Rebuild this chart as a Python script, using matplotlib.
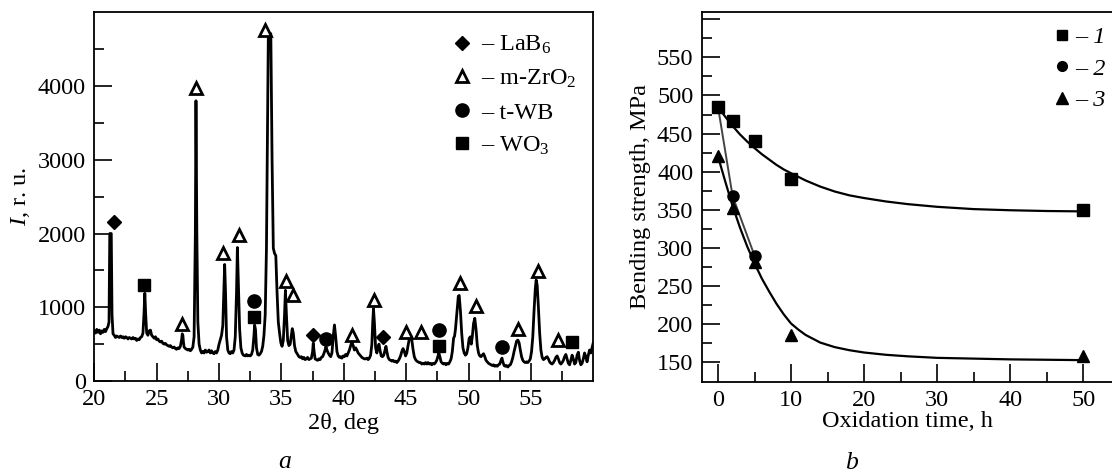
import matplotlib
matplotlib.use("Agg")
import matplotlib.pyplot as plt
from matplotlib.ticker import MultipleLocator, FixedLocator
from matplotlib.lines import Line2D

plt.rcParams['font.family'] = ['Liberation Serif', 'DejaVu Serif']
plt.rcParams['mathtext.fontset'] = 'custom'
plt.rcParams['mathtext.rm'] = 'Liberation Serif'
plt.rcParams['mathtext.it'] = 'Liberation Serif:italic'

# ---------------- Panel a: XRD pattern ----------------
two_theta = [
    20.0, 20.1, 20.2, 20.3, 20.4, 20.5, 20.6, 20.7, 20.8, 20.9, 21.0, 21.1,
    21.18, 21.24, 21.36, 21.42, 21.5,
    21.6, 21.7, 21.8, 21.9, 22.0, 22.1, 22.2, 22.3, 22.4, 22.5, 22.6, 22.7, 22.8, 22.9,
    23.0, 23.1, 23.2, 23.3, 23.4, 23.5, 23.6, 23.7, 23.8, 23.9,
    23.98, 24.05, 24.12, 24.2, 24.3, 24.4, 24.5, 24.6, 24.7, 24.8, 24.9,
    25.0, 25.1, 25.2, 25.3, 25.4, 25.5, 25.6, 25.7, 25.8, 25.9, 26.0, 26.1, 26.2, 26.3,
    26.4, 26.5, 26.6, 26.7, 26.8, 26.9, 27.0, 27.05, 27.1, 27.15, 27.2, 27.3, 27.4, 27.5,
    27.6, 27.7, 27.8, 27.9, 28.0, 28.1, 28.15, 28.22, 28.3, 28.4, 28.5, 28.6, 28.7, 28.8,
    28.9, 29.0, 29.1, 29.2, 29.3, 29.4, 29.5, 29.6, 29.7, 29.8, 29.9, 30.0, 30.1, 30.2,
    30.3, 30.38, 30.45, 30.52, 30.6, 30.7, 30.8, 30.9, 31.0, 31.1, 31.2, 31.3, 31.4, 31.47,
    31.55, 31.65, 31.75, 31.85, 31.95, 32.1, 32.2, 32.3, 32.4, 32.5, 32.6, 32.7, 32.8, 32.85,
    32.92, 33.0, 33.1, 33.2, 33.3, 33.4, 33.5, 33.6, 33.7, 33.8, 33.9, 33.95, 34.15, 34.25,
    34.35, 34.45, 34.55, 34.65, 34.75, 34.85, 34.95, 35.05, 35.15, 35.25, 35.32, 35.4, 35.5,
    35.6, 35.7, 35.8, 35.87, 35.95, 36.05, 36.15, 36.3, 36.4, 36.5, 36.6, 36.7, 36.8, 36.9,
    37.0, 37.1, 37.2, 37.3, 37.4, 37.5, 37.55, 37.62, 37.7, 37.8, 37.9, 38.0, 38.1, 38.2,
    38.3, 38.4, 38.5, 38.57, 38.65, 38.75, 38.85, 38.95, 39.05, 39.15, 39.25, 39.35, 39.45,
    39.55, 39.65, 39.75, 39.85, 39.95, 40.05, 40.15, 40.25, 40.35, 40.45, 40.55, 40.65,
    40.75, 40.85, 40.95, 41.05, 41.15, 41.25, 41.35, 41.45, 41.55, 41.65, 41.75, 41.85,
    41.95, 42.05, 42.15, 42.25, 42.32, 42.38, 42.45, 42.55, 42.65, 42.75, 42.82, 42.9, 43.0,
    43.1, 43.2, 43.3, 43.38, 43.45, 43.55, 43.65, 43.75, 43.85, 43.95, 44.05, 44.15, 44.25,
    44.35, 44.45, 44.55, 44.65, 44.75, 44.85, 44.95, 45.05, 45.15, 45.25, 45.35, 45.45,
    45.55, 45.65, 45.75, 45.85, 45.95, 46.05, 46.15, 46.25, 46.35, 46.45, 46.55, 46.65,
    46.75, 46.85, 46.95, 47.05, 47.15, 47.25, 47.35, 47.45, 47.55, 47.62, 47.7, 47.8, 47.9,
    48.0, 48.1, 48.2, 48.3, 48.4, 48.5, 48.6, 48.7, 48.8, 48.88, 48.95, 49.05, 49.18, 49.25,
    49.35, 49.45, 49.55, 49.65, 49.75, 49.85, 49.95, 50.05, 50.15, 50.22, 50.3, 50.4, 50.5,
    50.6, 50.7, 50.8, 50.9, 51.0, 51.1, 51.2, 51.3, 51.4, 51.5, 51.6, 51.7, 51.8, 51.9,
    52.0, 52.1, 52.2, 52.3, 52.4, 52.5, 52.6, 52.68, 52.75, 52.85, 52.95, 53.05, 53.15,
    53.25, 53.35, 53.45, 53.55, 53.65, 53.75, 53.85, 53.95, 54.05, 54.15, 54.25, 54.35,
    54.45, 54.55, 54.65, 54.75, 54.85, 54.95, 55.05, 55.15, 55.25, 55.35, 55.42, 55.5,
    55.6, 55.7, 55.8, 55.9, 56.0, 56.1, 56.2, 56.3, 56.4, 56.5, 56.6, 56.7, 56.8, 56.9,
    57.0, 57.1, 57.2, 57.3, 57.4, 57.5, 57.6, 57.7, 57.8, 57.9, 58.0, 58.1, 58.2, 58.3,
    58.4, 58.5, 58.6, 58.7, 58.8, 58.9, 59.0, 59.1, 59.2, 59.3, 59.4, 59.5, 59.6, 59.7,
    59.8, 59.9, 60.0,
]
intensity = [
    680, 650, 700, 660, 690, 640, 680, 660, 700, 670, 710, 740,
    800, 2000, 2000, 900, 640,
    620, 590, 610, 600, 590, 610, 590, 600, 580, 600, 590, 570, 590, 580,
    570, 590, 570, 580, 550, 570, 560, 590, 600, 650,
    900, 1190, 900, 650, 620, 680, 690, 620, 600, 580, 600,
    560, 570, 540, 530, 540, 510, 500, 510, 490, 480, 470, 480, 460, 450,
    460, 440, 430, 450, 440, 470, 560, 640, 620, 520, 460, 440, 430, 420,
    430, 410, 430, 460, 600, 2000, 3800, 2000, 800, 500, 420, 380, 400, 380,
    420, 390, 400, 420, 380, 410, 380, 370, 400, 380, 420, 500, 560, 620,
    750, 1200, 1580, 1200, 600, 420, 380, 370, 400, 380, 420, 600, 1200, 1810,
    1300, 700, 450, 380, 350, 340, 360, 340, 350, 340, 360, 420, 620, 760,
    700, 450, 360, 350, 370, 400, 470, 620, 900, 1800, 3800, 4710, 4710, 3000,
    1800, 1730, 1700, 1200, 800, 650, 520, 470, 550, 900, 1230, 900, 550,
    480, 500, 620, 710, 650, 480, 400, 360, 330, 320, 330, 300, 320, 290,
    300, 320, 290, 300, 310, 400, 510, 400, 300, 290, 280, 300, 290, 320,
    330, 370, 420, 465, 420, 380, 350, 330, 380, 600, 760, 600, 400,
    340, 320, 330, 310, 340, 330, 360, 340, 380, 420, 480, 530,
    480, 420, 450, 420, 380, 360, 340, 320, 310, 300, 300, 310,
    290, 310, 350, 500, 800, 980, 800, 450, 380, 460, 500, 420, 340,
    330, 350, 420, 470, 400, 320, 290, 280, 270, 280, 260, 270, 250,
    270, 300, 340, 400, 440, 400, 340, 380, 480, 570, 620, 560,
    430, 330, 290, 270, 260, 250, 250, 230, 240, 230, 250, 230,
    250, 230, 240, 220, 240, 230, 250, 280, 340, 380, 330, 260, 240,
    230, 240, 220, 240, 230, 260, 300, 400, 580, 610, 700, 900, 1150, 1160,
    950, 650, 450, 380, 350, 370, 450, 580, 600, 500, 600, 780, 850,
    700, 480, 380, 340, 330, 350, 370, 330, 280, 260, 240, 230, 220, 210,
    220, 200, 210, 200, 220, 230, 280, 310, 260, 210, 200, 210, 190,
    210, 220, 260, 320, 400, 470, 540, 555, 520, 420, 330, 280,
    260, 250, 260, 250, 270, 300, 400, 600, 950, 1250, 1370, 1300,
    1000, 650, 420, 320, 290, 300, 320, 330, 300, 260, 240, 230, 250, 280,
    320, 340, 300, 250, 230, 250, 280, 330, 360, 300, 240, 220, 280, 350,
    300, 230, 250, 350, 390, 280, 220, 240, 300, 380, 330, 260, 350, 420,
    380, 450, 520,
]

# phase markers (2theta, intensity)
lab6_x = [21.55, 37.56, 43.12]
lab6_y = [2150, 620, 600]
zro2_x = [27.05, 28.17, 30.29, 31.58, 33.67, 35.36, 35.93, 40.66, 42.44, 45.01, 46.16,
          49.31, 50.63, 53.98, 55.56, 57.15]
zro2_y = [770, 3980, 1740, 1980, 4760, 1350, 1160, 630, 1100, 660, 660,
          1330, 1020, 710, 1490, 560]
twb_x = [32.81, 38.57, 47.65, 52.66]
twb_y = [1085, 565, 690, 465]
wo3_x = [24.01, 32.81, 47.65, 58.3]
wo3_y = [1300, 865, 480, 525]

phase_labels = ["– LaB$_6$", "– m-ZrO$_2$", "– t-WB", "– WO$_3$"]

# ---------------- Panel b: bending strength ----------------
time1 = [0, 2, 5, 10, 50]
strength1 = [485, 466, 440, 390, 350]
time2 = [0, 2, 5]
strength2 = [485, 368, 290]
time3 = [0, 2, 5, 10, 50]
strength3 = [420, 352, 282, 186, 158]

# fitted trend curves
fit1_t = [0, 1, 2, 3, 4, 5, 6, 7, 8, 9, 10, 12, 14, 16, 18, 20, 23, 26, 30, 35, 40, 45, 50]
fit1_s = [485, 472, 460, 449, 439.5, 431, 423, 416, 409, 403, 398, 388.5, 380.5, 374, 369,
          365.5, 361, 357.5, 354, 351, 349.5, 348.5, 348]
fit3_t = [0, 1, 2, 3, 4, 5, 6, 7, 8, 9, 10, 11, 12, 14, 16, 18, 20, 23, 26, 30, 35, 40, 45, 50]
fit3_s = [420, 387, 355, 327, 302, 280, 260, 243, 227, 213, 201, 193, 186, 176, 170, 166,
          163, 160, 158, 156, 155, 154, 153.5, 153]

series_labels = ["– 1", "– 2", "– 3"]

W, H = 1112, 476
fig = plt.figure(figsize=(W / 100, H / 100), dpi=100)

def px_axes(x0, y0, x1, y1):
    return fig.add_axes([x0 / W, 1 - y1 / H, (x1 - x0) / W, (y1 - y0) / H])

FS = 17.5
TICKW = 1.2

# ---- left
axa = px_axes(94.3, 12.3, 593.3, 381)
axa.plot(two_theta, intensity, color='black', lw=2.0, solid_joinstyle='round', zorder=2)
axa.plot(lab6_x, lab6_y, ls='none', marker='D', ms=7, color='black', zorder=3)
axa.plot(zro2_x, zro2_y, ls='none', marker='^', ms=9, mfc='white', mec='black', mew=2.0, zorder=3)
axa.plot(twb_x, twb_y, ls='none', marker='o', ms=9.5, color='black', zorder=3)
axa.plot(wo3_x, wo3_y, ls='none', marker='s', ms=8.5, color='black', zorder=3)
axa.set_xlim(20, 60)
axa.set_ylim(0, 5000)
axa.xaxis.set_major_locator(FixedLocator([20, 25, 30, 35, 40, 45, 50, 55]))
axa.xaxis.set_minor_locator(FixedLocator([22.5, 27.5, 32.5, 37.5, 42.5, 47.5, 52.5, 57.5]))
axa.yaxis.set_major_locator(FixedLocator([0, 1000, 2000, 3000, 4000]))
axa.yaxis.set_minor_locator(FixedLocator([500, 1500, 2500, 3500, 4500]))
axa.set_xlabel("2θ, deg", fontsize=FS, labelpad=2)
axa.set_ylabel("$\\mathit{I}$, r. u.", fontsize=FS, labelpad=4)

h_a = [
    Line2D([], [], ls='none', marker='D', ms=7, color='black'),
    Line2D([], [], ls='none', marker='^', ms=9, mfc='white', mec='black', mew=2.0),
    Line2D([], [], ls='none', marker='o', ms=9.5, color='black'),
    Line2D([], [], ls='none', marker='s', ms=8.5, color='black'),
]
axa.legend(h_a, phase_labels, loc='upper left',
           bbox_to_anchor=(435 / W, 1 - 17 / H), bbox_transform=fig.transFigure,
           frameon=False, fontsize=FS, handlelength=0.8, handletextpad=0.4,
           labelspacing=0.47, borderaxespad=0.3)

# ---- right
axb = px_axes(701.7, 12.3, 1114, 381.5)
axb.plot(fit1_t, fit1_s, color='black', lw=1.6, zorder=2)
axb.plot(fit3_t, fit3_s, color='black', lw=1.6, zorder=2)
axb.plot(time2, strength2, color='#444444', lw=1.4, zorder=2)
axb.plot(time1, strength1, ls='none', marker='s', ms=8, color='black', zorder=3)
axb.plot(time2, strength2, ls='none', marker='o', ms=8, color='black', zorder=3)
axb.plot(time3, strength3, ls='none', marker='^', ms=9, color='black', zorder=3)
axb.set_xlim(-2.23, 54.2)
axb.set_ylim(125, 609)
axb.xaxis.set_major_locator(MultipleLocator(10))
axb.xaxis.set_minor_locator(FixedLocator([5, 15, 25, 35, 45]))
axb.yaxis.set_major_locator(FixedLocator([150, 200, 250, 300, 350, 400, 450, 500, 550, 600]))
axb.yaxis.set_minor_locator(FixedLocator([175, 225, 275, 325, 375, 425, 475, 525, 575]))
axb.set_yticklabels(['150', '200', '250', '300', '350', '400', '450', '500', '550', ''])
axb.set_xlabel("Oxidation time, h", fontsize=FS, labelpad=0)
axb.set_ylabel("Bending strength, MPa", fontsize=FS, labelpad=4)
axb.spines['right'].set_visible(False)

h_b = [
    Line2D([], [], ls='none', marker='s', ms=7, color='black'),
    Line2D([], [], ls='none', marker='o', ms=7, color='black'),
    Line2D([], [], ls='none', marker='^', ms=8, color='black'),
]
axb.legend(h_b, series_labels, loc='upper right',
           bbox_to_anchor=(1123 / W, 1 - 9 / H), bbox_transform=fig.transFigure,
           frameon=False, prop={'size': FS, 'style': 'italic'}, handlelength=0.8,
           handletextpad=0.15, labelspacing=0.39, borderaxespad=0.3)

for ax in (axa, axb):
    ax.tick_params(which='both', direction='in', labelsize=FS, width=TICKW)
    ax.tick_params(which='major', length=13, pad=6)
    ax.tick_params(which='minor', length=7)
    for s in ax.spines.values():
        s.set_linewidth(1.3)

fig.text(285 / W, 1 - 462 / H, "$\\mathit{a}$", fontsize=FS + 1, ha='center', va='center')
fig.text(852 / W, 1 - 463 / H, "$\\mathit{b}$", fontsize=FS + 1, ha='center', va='center')

fig.savefig("out.png", dpi=100)
